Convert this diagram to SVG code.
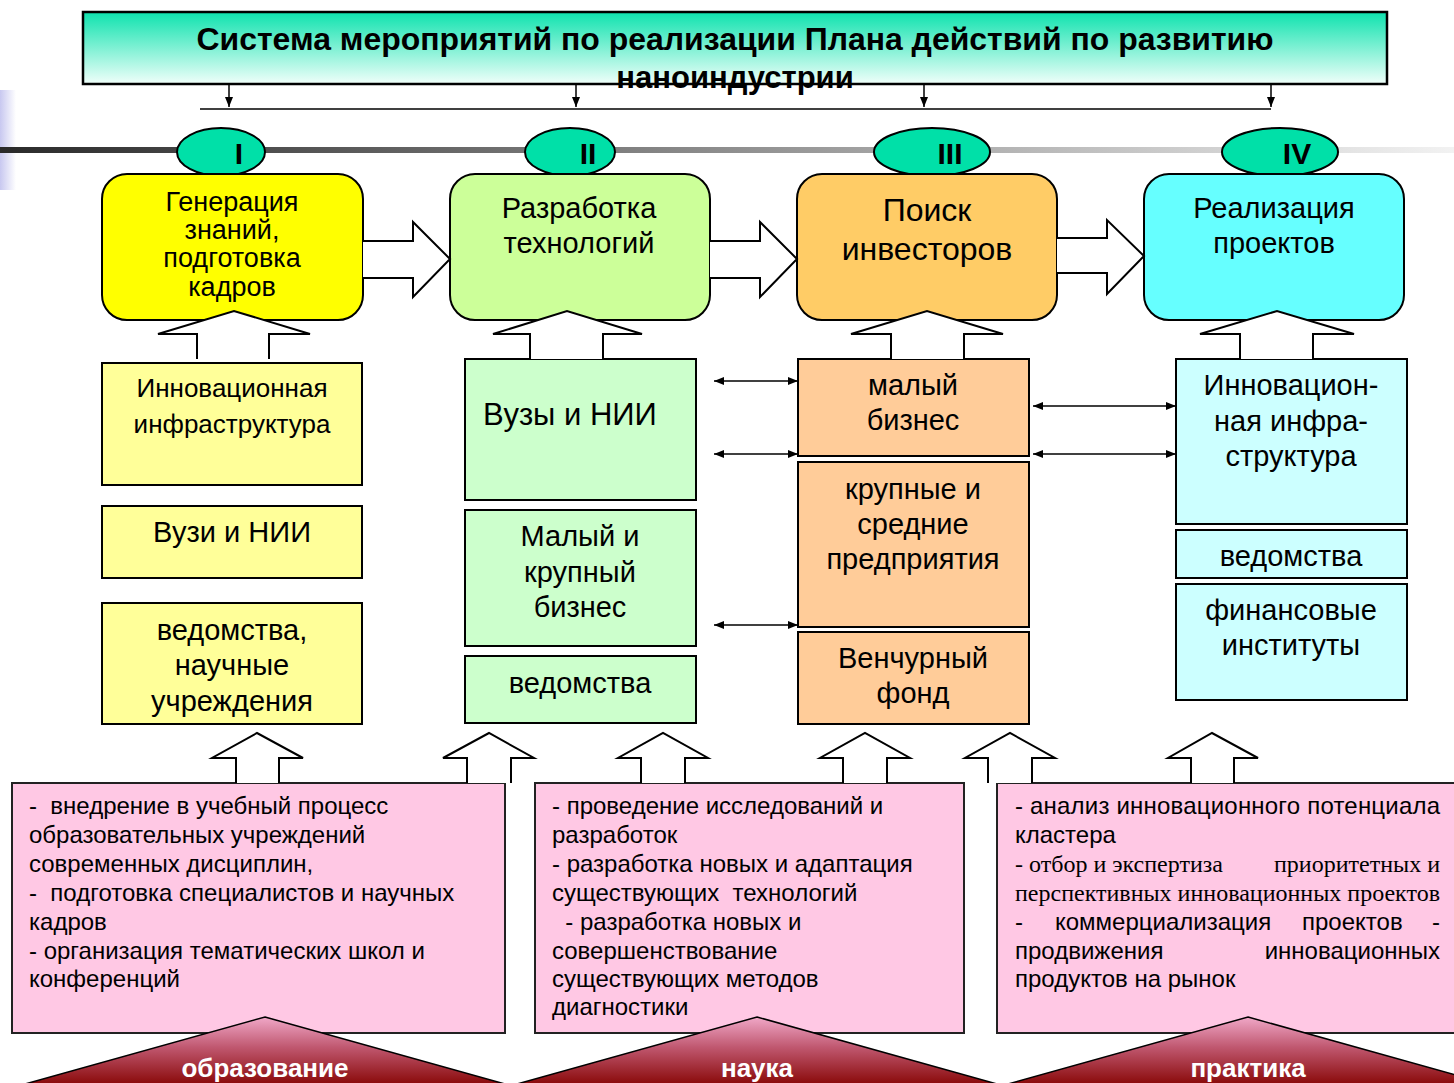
<svg xmlns="http://www.w3.org/2000/svg" width="1454" height="1083" viewBox="0 0 1454 1083">
<defs>
<linearGradient id="gTitle" x1="0" y1="0" x2="0" y2="1"><stop offset="0" stop-color="#0ee2ae"/><stop offset="1" stop-color="#f0fffa"/></linearGradient>
<linearGradient id="gBar" x1="0" y1="0" x2="1" y2="0"><stop offset="0" stop-color="#2a2a2a"/><stop offset="1" stop-color="#f2f2f2"/></linearGradient>
<linearGradient id="gSide" x1="0" y1="0" x2="1" y2="0"><stop offset="0" stop-color="#c8c8f0"/><stop offset="1" stop-color="#ffffff"/></linearGradient>
<linearGradient id="gTri" x1="0" y1="0" x2="0" y2="1"><stop offset="0" stop-color="#f0a8c8"/><stop offset="0.45" stop-color="#c05870"/><stop offset="1" stop-color="#8a0a0a"/></linearGradient>
<marker id="ah" viewBox="0 0 10 10" refX="10" refY="5" markerWidth="10" markerHeight="10" markerUnits="userSpaceOnUse" orient="auto-start-reverse"><path d="M0,1 L10,5 L0,9 z" fill="#000"/></marker>
</defs>
<style>
text{font-family:"Liberation Sans",Arial,sans-serif;fill:#000}
.t{text-anchor:middle}
.big{font-size:29px}
.gen{font-size:27px}
.sub{font-size:29px}
.pk{font-size:24px}
.ser{font-family:"Liberation Serif","Times New Roman",serif;font-size:24px}
.num{font-size:30px;font-weight:bold;text-anchor:middle}
.box{stroke:#000;stroke-width:2}
.blk{fill:#fff;stroke:#000;stroke-width:2;stroke-linejoin:miter}
.ln{stroke:#000;stroke-width:1.5;fill:none}
.pink{fill:#ffc8e4;stroke:#222;stroke-width:2}
.tri{fill:url(#gTri);stroke:#000;stroke-width:1.5}
.lab{font-size:26px;font-weight:bold;fill:#fff;text-anchor:middle}
.ell{fill:#00e0a8;stroke:#000;stroke-width:2}
</style>
<rect x="0" y="90" width="16" height="100" fill="url(#gSide)"/>
<rect x="0" y="147" width="1454" height="6" fill="url(#gBar)"/>

<g id="title">
<rect x="83" y="12" width="1304" height="72" fill="url(#gTitle)" stroke="#000" stroke-width="2.5"/>
<text class="t" x="735" y="50" font-size="31" font-weight="bold" textLength="1077" lengthAdjust="spacingAndGlyphs">Система мероприятий по реализации Плана действий по развитию</text>
<text class="t" x="735" y="88" font-size="31" font-weight="bold">наноиндустрии</text>
</g>

<g id="n-I"><ellipse class="ell" cx="221" cy="152" rx="44" ry="24"/><text class="num" x="239" y="164">I</text></g>
<g id="n-II"><ellipse class="ell" cx="570" cy="152" rx="45" ry="24"/><text class="num" x="588" y="164">II</text></g>
<g id="n-III"><ellipse class="ell" cx="932" cy="152" rx="58" ry="24"/><text class="num" x="950" y="164">III</text></g>
<g id="n-IV"><ellipse class="ell" cx="1280" cy="152" rx="58" ry="24"/><text class="num" x="1297" y="164">IV</text></g>

<g id="m-I"><rect class="box" x="102" y="174" width="261" height="146" rx="25" fill="#ffff00"/>
<text class="t gen" x="232" y="211">Генерация</text><text class="t gen" x="232" y="239">знаний,</text><text class="t gen" x="232" y="267">подготовка</text><text class="t gen" x="232" y="296">кадров</text></g>
<g id="m-II"><rect class="box" x="450" y="174" width="260" height="146" rx="25" fill="#ccff99"/>
<text class="t big" x="579" y="218">Разработка</text><text class="t big" x="579" y="253">технологий</text></g>
<g id="m-III"><rect class="box" x="797" y="174" width="260" height="146" rx="25" fill="#ffcc66"/>
<text class="t" font-size="32" x="927" y="221">Поиск</text><text class="t" font-size="32" x="927" y="260">инвесторов</text></g>
<g id="m-IV"><rect class="box" x="1144" y="174" width="260" height="146" rx="25" fill="#66ffff"/>
<text class="t big" x="1274" y="218">Реализация</text><text class="t big" x="1274" y="253">проектов</text></g>

<g id="s-I-1"><rect class="box" x="102" y="363" width="260" height="122" fill="#ffff99"/><text class="t" font-size="26" x="232" y="397">Инновационная</text><text class="t" font-size="26" x="232" y="433">инфраструктура</text></g>
<g id="s-I-2"><rect class="box" x="102" y="506" width="260" height="72" fill="#ffff99"/><text class="t sub" x="232" y="542">Вузи и НИИ</text></g>
<g id="s-I-3"><rect class="box" x="102" y="603" width="260" height="121" fill="#ffff99"/><text class="t sub" x="232" y="640">ведомства,</text><text class="t sub" x="232" y="675">научные</text><text class="t sub" x="232" y="711">учреждения</text></g>

<g id="s-II-1"><rect class="box" x="465" y="359" width="231" height="141" fill="#ccffcc"/><text class="t" font-size="31" x="570" y="425">Вузы и НИИ</text></g>
<g id="s-II-2"><rect class="box" x="465" y="510" width="231" height="136" fill="#ccffcc"/><text class="t sub" x="580" y="546">Малый и</text><text class="t sub" x="580" y="582">крупный</text><text class="t sub" x="580" y="617">бизнес</text></g>
<g id="s-II-3"><rect class="box" x="465" y="656" width="231" height="67" fill="#ccffcc"/><text class="t sub" x="580" y="693">ведомства</text></g>

<g id="s-III-1"><rect class="box" x="798" y="359" width="231" height="97" fill="#ffcc99"/><text class="t sub" x="913" y="395">малый</text><text class="t sub" x="913" y="430">бизнес</text></g>
<g id="s-III-2"><rect class="box" x="798" y="462" width="231" height="165" fill="#ffcc99"/><text class="t sub" x="913" y="499">крупные и</text><text class="t sub" x="913" y="534">средние</text><text class="t sub" x="913" y="569">предприятия</text></g>
<g id="s-III-3"><rect class="box" x="798" y="632" width="231" height="92" fill="#ffcc99"/><text class="t sub" x="913" y="668">Венчурный</text><text class="t sub" x="913" y="703">фонд</text></g>

<g id="s-IV-1"><rect class="box" x="1176" y="359" width="231" height="165" fill="#ccffff"/><text class="t sub" x="1291" y="395">Инновацион-</text><text class="t sub" x="1291" y="431">ная инфра-</text><text class="t sub" x="1291" y="466">структура</text></g>
<g id="s-IV-2"><rect class="box" x="1176" y="530" width="231" height="48" fill="#ccffff"/><text class="t sub" x="1291" y="566">ведомства</text></g>
<g id="s-IV-3"><rect class="box" x="1176" y="584" width="231" height="116" fill="#ccffff"/><text class="t sub" x="1291" y="620">финансовые</text><text class="t sub" x="1291" y="655">институты</text></g>

<g id="p-edu"><rect class="pink" x="12" y="783" width="493" height="250"/>
<text class="pk" x="29" xml:space="preserve" y="814">-  внедрение в учебный процесс</text>
<text class="pk" x="29" y="843">образовательных учреждений</text>
<text class="pk" x="29" y="872">современных дисциплин,</text>
<text class="pk" x="29" xml:space="preserve" y="901">-  подготовка специалистов и научных</text>
<text class="pk" x="29" y="930">кадров</text>
<text class="pk" x="29" y="959">- организация тематических школ и</text>
<text class="pk" x="29" y="987">конференций</text>
</g>
<g id="p-sci"><rect class="pink" x="535" y="783" width="429" height="250"/>
<text class="pk" x="552" y="814">- проведение исследований и</text>
<text class="pk" x="552" y="843">разработок</text>
<text class="pk" x="552" y="872">- разработка новых и адаптация</text>
<text class="pk" x="552" y="901" xml:space="preserve">существующих  технологий</text>
<text class="pk" x="552" y="930" xml:space="preserve">  - разработка новых и</text>
<text class="pk" x="552" y="959">совершенствование</text>
<text class="pk" x="552" y="987">существующих методов</text>
<text class="pk" x="552" y="1015">диагностики</text>
</g>
<g id="p-pra"><rect class="pink" x="997" y="783" width="470" height="250"/>
<text class="pk" x="1015" y="814" textLength="425" lengthAdjust="spacing">- анализ инновационного потенциала</text>
<text class="pk" x="1015" y="843">кластера</text>
<text class="ser" x="1015" y="872">- отбор и экспертиза</text>
<text class="ser" x="1440" y="872" text-anchor="end">приоритетных и</text>
<text class="ser" x="1015" y="901">перспективных инновационных проектов</text>
<text class="pk" x="1015" y="930">-</text>
<text class="pk" x="1055" y="930">коммерциализация</text>
<text class="pk" x="1302" y="930">проектов</text>
<text class="pk" x="1440" y="930" text-anchor="end">-</text>
<text class="pk" x="1015" y="959">продвижения</text>
<text class="pk" x="1440" y="959" text-anchor="end">инновационных</text>
<text class="pk" x="1015" y="987">продуктов на рынок</text>
</g>

<g id="connectors">
<line class="ln" x1="200" y1="109" x2="1271" y2="109"/>
<line class="ln" x1="229" y1="84" x2="229" y2="107" marker-end="url(#ah)"/>
<line class="ln" x1="576" y1="84" x2="576" y2="107" marker-end="url(#ah)"/>
<line class="ln" x1="924" y1="84" x2="924" y2="107" marker-end="url(#ah)"/>
<line class="ln" x1="1271" y1="84" x2="1271" y2="107" marker-end="url(#ah)"/>
<path class="blk" d="M363,241 L413,241 L413,222 L450,259 L413,297 L413,278 L363,278"/>
<path class="blk" d="M710,241 L760,241 L760,222 L797,259 L760,297 L760,278 L710,278"/>
<path class="blk" d="M1057,238 L1107,238 L1107,220 L1144,256 L1107,294 L1107,273 L1057,273"/>
<path class="blk" d="M197,359 L197,334 L158,334 L234,311 L310,334 L269,334 L269,359"/>
<path class="blk" d="M530,359 L530,334 L493,334 L567,311 L642,334 L603,334 L603,359"/>
<path class="blk" d="M891,359 L891,334 L851,334 L927,311 L1003,334 L964,334 L964,359"/>
<path class="blk" d="M1240,359 L1240,334 L1200,334 L1277,311 L1354,334 L1313,334 L1313,359"/>
<line class="ln" x1="714" y1="381" x2="798" y2="381" marker-start="url(#ah)" marker-end="url(#ah)"/>
<line class="ln" x1="714" y1="454" x2="798" y2="454" marker-start="url(#ah)" marker-end="url(#ah)"/>
<line class="ln" x1="714" y1="625" x2="798" y2="625" marker-start="url(#ah)" marker-end="url(#ah)"/>
<line class="ln" x1="1033" y1="406" x2="1176" y2="406" marker-start="url(#ah)" marker-end="url(#ah)"/>
<line class="ln" x1="1033" y1="454" x2="1176" y2="454" marker-start="url(#ah)" marker-end="url(#ah)"/>
<path class="blk" d="M236,783 L236,758 L212,758 L257,733 L303,758 L279,758 L279,783"/>
<path class="blk" d="M467,783 L467,758 L443,758 L489,733 L534,758 L511,758 L511,783"/>
<path class="blk" d="M641,783 L641,758 L618,758 L663,733 L708,758 L685,758 L685,783"/>
<path class="blk" d="M843,783 L843,758 L820,758 L865,733 L910,758 L887,758 L887,783"/>
<path class="blk" d="M988,783 L988,758 L965,758 L1010,733 L1055,758 L1032,758 L1032,783"/>
<path class="blk" d="M1191,783 L1191,758 L1168,758 L1212,733 L1258,758 L1234,758 L1234,783"/>
</g>

<g id="b-edu"><path class="tri" d="M265,1017 L505,1084 L25,1084 Z"/><text class="lab" x="265" y="1077">образование</text></g>
<g id="b-sci"><path class="tri" d="M757,1017 L997,1084 L517,1084 Z"/><text class="lab" x="757" y="1077">наука</text></g>
<g id="b-pra"><path class="tri" d="M1248,1017 L1488,1084 L1008,1084 Z"/><text class="lab" x="1248" y="1077">практика</text></g>
</svg>
